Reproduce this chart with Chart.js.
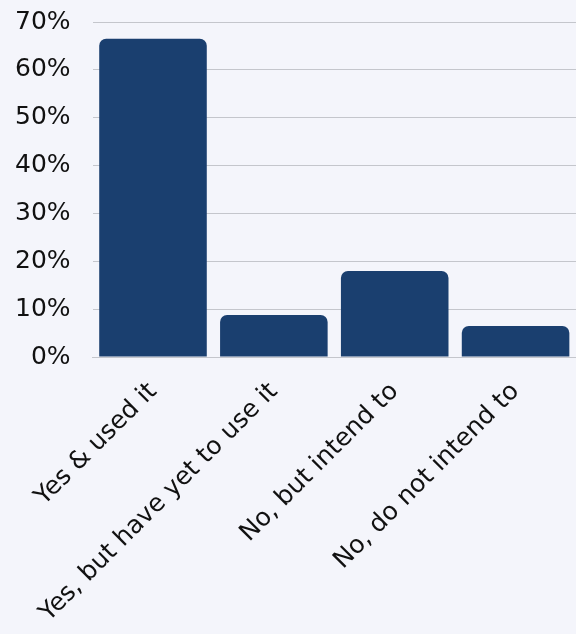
<!DOCTYPE html>
<html lang="en">
<head>
    <meta charset="UTF-8">
    <title>Usage Chart</title>
    <script src="https://cdn.jsdelivr.net/npm/chart.js@4.4.0/dist/chart.umd.min.js"></script>
    <style>
        html, body { margin: 0; padding: 0; background: #f4f5fb; overflow: hidden; }
        .chart-box { width: 583px; height: 663px; position: relative; margin: -15px 0 0 -7px; }
    </style>
</head>
<body>
    <div class="chart-box">
        <canvas id="usageChart"></canvas>
    </div>

    <script>
        // Data
        const categories = ['Yes & used it', 'Yes, but have yet to use it', 'No, but intend to', 'No, do not intend to'];
        const shares = [66.5, 8.8, 18, 6.5];
        const yTicks = [0, 10, 20, 30, 40, 50, 60, 70];

        const ctx = document.getElementById('usageChart').getContext('2d');
        const usageChart = new Chart(ctx, {
            type: 'bar',
            data: {
                labels: categories,
                datasets: [{
                    data: shares,
                    backgroundColor: '#1a3f6f',
                    borderRadius: { topLeft: 7, topRight: 7 },
                    borderSkipped: 'bottom',
                    barPercentage: 0.89,
                    categoryPercentage: 1
                }]
            },
            options: {
                responsive: true,
                maintainAspectRatio: false,
                animation: false,
                layout: { padding: 0 },
                plugins: {
                    legend: { display: false },
                    tooltip: { enabled: false }
                },
                scales: {
                    x: {
                        grid: { display: false, drawTicks: false },
                        border: { color: '#c4c6cc', width: 1 },
                        ticks: {
                            color: '#111',
                            font: { family: 'DejaVu Sans', size: 25 },
                            maxRotation: 45,
                            minRotation: 45,
                            padding: 20
                        }
                    },
                    y: {
                        min: 0,
                        max: 70,
                        afterBuildTicks: axis => {
                            axis.ticks = yTicks.map(v => ({ value: v }));
                        },
                        grid: { color: '#c4c6cc', drawTicks: false },
                        border: { display: false },
                        ticks: {
                            color: '#111',
                            font: { family: 'DejaVu Sans', size: 25 },
                            padding: 22,
                            callback: v => v + '%'
                        }
                    }
                }
            }
        });
    </script>
</body>
</html>
